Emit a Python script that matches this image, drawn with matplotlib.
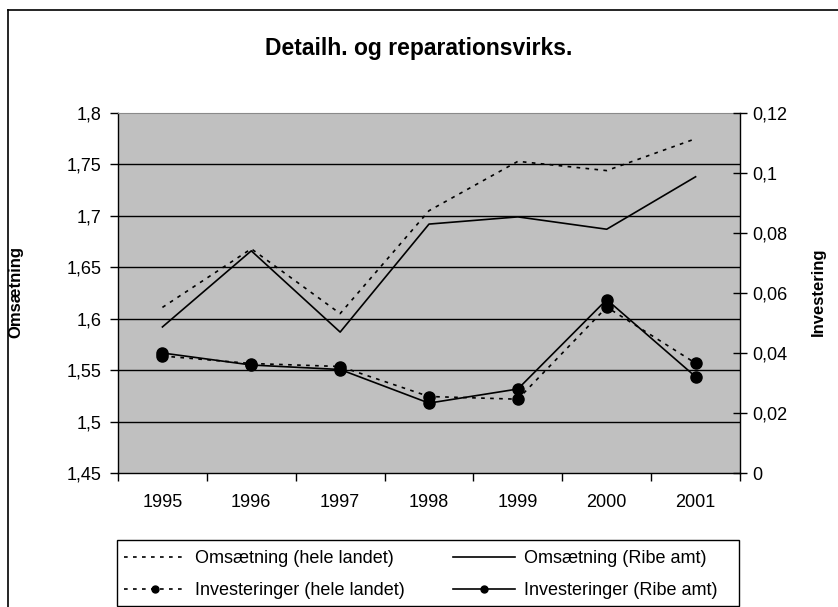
import matplotlib
matplotlib.use('Agg')
import matplotlib.pyplot as plt
from matplotlib.lines import Line2D
from matplotlib.patches import Rectangle

# data
years = ['1995', '1996', '1997', '1998', '1999', '2000', '2001']
oms_hele = [1.611, 1.668, 1.605, 1.705, 1.753, 1.744, 1.775]
oms_ribe = [1.592, 1.666, 1.587, 1.692, 1.699, 1.687, 1.738]
inv_hele = [0.0390, 0.0365, 0.0355, 0.0255, 0.0246, 0.0553, 0.0366]
inv_ribe = [0.0400, 0.0360, 0.0345, 0.0233, 0.0280, 0.0578, 0.0321]

left_ticks = [1.45, 1.5, 1.55, 1.6, 1.65, 1.7, 1.75, 1.8]
left_labels = ['1,45', '1,5', '1,55', '1,6', '1,65', '1,7', '1,75', '1,8']
right_ticks = [0, 0.02, 0.04, 0.06, 0.08, 0.1, 0.12]
right_labels = ['0', '0,02', '0,04', '0,06', '0,08', '0,1', '0,12']

plt.rcParams['font.family'] = ['Liberation Sans', 'DejaVu Sans']

W, H = 838, 607
fig = plt.figure(figsize=(W / 100, H / 100), dpi=100)
fig.patch.set_facecolor('white')

ax = fig.add_axes([118 / W, 1 - 473 / H, (740 - 118) / W, (473 - 113) / H])
ax.set_facecolor('#c0c0c0')
x = list(range(len(years)))

dotted = (0, (2.2, 3.2))
ax.plot(x, oms_hele, color='black', lw=1.2, linestyle=dotted)
ax.plot(x, oms_ribe, color='black', lw=1.2)
ax.set_ylim(1.45, 1.8)
ax.set_xlim(-0.5, len(years) - 0.5)
ax.set_yticks(left_ticks)
ax.set_yticklabels(left_labels, fontsize=13)
for v in left_ticks[1:-1]:
    ax.axhline(v, color='black', lw=1, zorder=0.5)
ax.set_xticks(x)
ax.set_xticklabels(years, fontsize=13)
ax.set_xticks([i - 0.5 for i in range(len(years) + 1)], minor=True)
ax.tick_params(axis='x', which='major', length=0, pad=15)
ax.tick_params(axis='x', which='minor', length=6, direction='out', width=1)
ax.tick_params(axis='y', length=6, direction='out', width=1, pad=6)
ax.spines['top'].set_color('#8a8a8a')
ax.spines['right'].set_visible(False)
for s in ['left', 'bottom']:
    ax.spines[s].set_linewidth(1)

ax2 = ax.twinx()
ax2.plot(x, inv_hele, color='black', lw=1.2, linestyle=dotted, marker='o', ms=8)
ax2.plot(x, inv_ribe, color='black', lw=1.2, marker='o', ms=8)
ax2.set_ylim(0, 0.12)
ax2.set_yticks(right_ticks)
ax2.set_yticklabels(right_labels, fontsize=13)
ax2.tick_params(axis='y', length=10, direction='inout', width=1, pad=4)
for s in ['left', 'top', 'bottom']:
    ax2.spines[s].set_visible(False)
ax2.spines['right'].set_linewidth(1)

fig.text(0.5, 1 - 48 / H, 'Detailh. og reparationsvirks.', ha='center', va='center',
         fontsize=16.5, fontweight='bold')
fig.text(16 / W, 1 - 292 / H, 'Omsætning', rotation=90, ha='center', va='center',
         fontsize=12, fontweight='bold')
fig.text(818 / W, 1 - 292 / H, 'Investering', rotation=90, ha='center', va='center',
         fontsize=12, fontweight='bold')

handles = [
    Line2D([], [], color='black', lw=1.2, linestyle=dotted),
    Line2D([], [], color='black', lw=1.2, linestyle=dotted, marker='o', ms=5),
    Line2D([], [], color='black', lw=1.2),
    Line2D([], [], color='black', lw=1.2, marker='o', ms=5),
]
labels = ['Omsætning (hele landet)', 'Investeringer (hele landet)',
          'Omsætning (Ribe amt)', 'Investeringer (Ribe amt)']
leg = fig.legend(handles, labels, ncol=2, loc='upper left',
                 bbox_to_anchor=(117 / W, 1 - 543 / H), bbox_transform=fig.transFigure,
                 fontsize=13, frameon=False, handlelength=3.4,
                 handletextpad=0.5, columnspacing=2.7, labelspacing=0.82,
                 borderpad=0.4, borderaxespad=0)

# legend frame drawn separately so the box matches the plot width
fig.add_artist(Rectangle((117 / W, 1 - 606 / H), (739 - 117) / W, (606 - 540) / H,
                         transform=fig.transFigure, fill=False, edgecolor='black', lw=1))

# chart area border (only top and left visible in the reference)
fig.add_artist(Line2D([8 / W, 1], [1 - 10 / H, 1 - 10 / H], transform=fig.transFigure,
                      color='black', lw=1.2))
fig.add_artist(Line2D([8 / W, 8 / W], [1 - 10 / H, 0], transform=fig.transFigure,
                      color='black', lw=1.2))

fig.savefig('out.png', dpi=100)
